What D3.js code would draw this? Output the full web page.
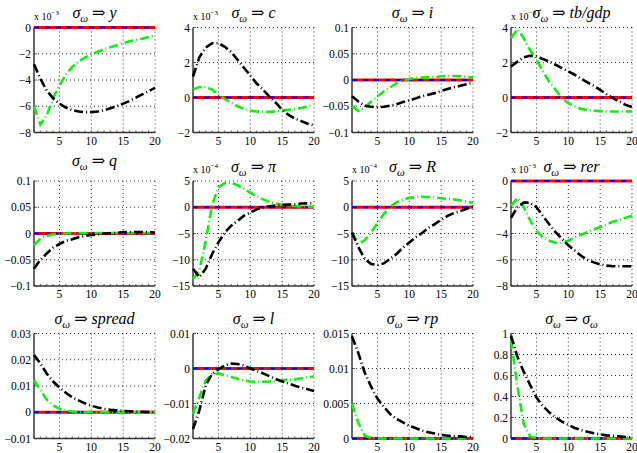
<!DOCTYPE html>
<html><head><meta charset="utf-8">
<script src="https://cdn.jsdelivr.net/npm/d3@7"></script>
<style>body{margin:0;background:#fff} svg{display:block}</style>
</head><body>
<svg id="c" width="637" height="453"></svg>
<script>
// ---------- data ----------
const periods = [1,2,3,4,5,6,7,8,9,10,11,12,13,14,15,16,17,18,19,20];
const zeroLine = [0,0,0,0,0,0,0,0,0,0,0,0,0,0,0,0,0,0,0,0];
const xTicks = [5,10,15,20];

const yBlack = [-2.8,-3.9,-4.8,-5.4,-5.8,-6.1,-6.3,-6.4,-6.45,-6.45,-6.4,-6.3,-6.15,-6.0,-5.8,-5.6,-5.35,-5.1,-4.85,-4.6];
const yGreen = [-6.0,-7.4,-6.7,-5.4,-4.4,-3.6,-3.0,-2.6,-2.3,-2.05,-1.85,-1.65,-1.5,-1.35,-1.2,-1.05,-0.95,-0.85,-0.72,-0.6];
const cBlack = [1.2,2.3,2.85,3.1,3.1,2.9,2.6,2.15,1.7,1.25,0.8,0.45,0.05,-0.3,-0.7,-1.0,-1.2,-1.35,-1.5,-1.6];
const cGreen = [0.45,0.6,0.6,0.45,0.15,-0.1,-0.3,-0.5,-0.65,-0.75,-0.8,-0.82,-0.82,-0.8,-0.75,-0.7,-0.65,-0.6,-0.5,-0.4];
const iBlack = [-0.031,-0.041,-0.049,-0.051,-0.052,-0.051,-0.049,-0.046,-0.042,-0.039,-0.035,-0.031,-0.028,-0.025,-0.021,-0.017,-0.014,-0.011,-0.008,-0.005];
const iGreen = [-0.05,-0.059,-0.053,-0.041,-0.031,-0.022,-0.014,-0.006,-0.001,0.002,0.004,0.0045,0.005,0.0055,0.007,0.0075,0.0075,0.007,0.006,0.005];
const tbBlack = [1.77,2.05,2.3,2.38,2.35,2.2,2.05,1.87,1.68,1.49,1.3,1.07,0.86,0.67,0.44,0.19,-0.04,-0.23,-0.42,-0.55];
const tbGreen = [3.4,3.9,3.4,2.7,2.15,1.5,0.9,0.44,-0.04,-0.32,-0.5,-0.65,-0.72,-0.76,-0.78,-0.8,-0.8,-0.8,-0.8,-0.8];
const qBlack = [-0.067,-0.05,-0.038,-0.027,-0.02,-0.014,-0.011,-0.007,-0.0045,-0.003,-0.002,0,0.0005,0.001,0.003,0.003,0.003,0.003,0.0025,0.002];
const qGreen = [-0.022,-0.01,-0.0045,-0.002,-0.001,0,0.0005,0.0008,0.001,0.001,0.001,0.001,0.001,0.001,0.001,0.001,0.001,0.001,0.001,0.001];
const piBlack = [-11.7,-13.3,-11.7,-8.9,-6.7,-4.8,-3.5,-2.6,-1.6,-1.0,-0.4,-0.06,0.2,0.35,0.45,0.5,0.55,0.7,0.75,0.8];
const piGreen = [-13.7,-12.0,-6.5,0.5,3.8,4.6,4.7,4.2,3.5,2.8,2.1,1.5,1.0,0.7,0.45,0.3,0.2,0.15,0.1,0.05];
const rBlack = [-4.8,-7.6,-9.8,-10.8,-11.0,-10.7,-9.8,-8.9,-7.7,-6.7,-5.7,-4.9,-3.9,-3.2,-2.4,-1.65,-1.1,-0.75,-0.3,0.1];
const rGreen = [-4.8,-7.0,-6.3,-4.8,-3.0,-1.3,0.1,0.95,1.45,1.8,1.9,2.0,1.95,1.9,1.7,1.6,1.5,1.3,1.1,0.8];
const rerBlack = [-2.8,-2.0,-1.65,-1.65,-2.0,-2.65,-3.3,-3.9,-4.4,-4.9,-5.3,-5.7,-6.0,-6.2,-6.35,-6.45,-6.5,-6.5,-6.5,-6.5];
const rerGreen = [-1.9,-1.3,-2.0,-3.0,-3.8,-4.3,-4.55,-4.7,-4.7,-4.55,-4.3,-4.1,-3.9,-3.7,-3.5,-3.3,-3.1,-2.95,-2.8,-2.65];
const spreadBlack = [0.0218,0.0186,0.0147,0.0117,0.0094,0.0074,0.0057,0.0045,0.0034,0.0025,0.0018,0.0013,0.0009,0.0007,0.0005,0.0004,0.0003,0.0002,0.00015,0.0001];
const spreadGreen = [0.0122,0.0085,0.0048,0.0026,0.0013,0.0006,0.0003,0.00015,0.0001,0.0001,0.00005,0,0,0,0,0,0,0,0,0];
const lBlack = [-0.0173,-0.012,-0.0048,-0.0016,-0.0002,0.0009,0.0014,0.0013,0.0008,0.0,-0.0007,-0.0014,-0.0022,-0.003,-0.0037,-0.0043,-0.0049,-0.0055,-0.0059,-0.0064];
const lGreen = [-0.013,-0.0082,-0.0034,-0.0016,-0.0014,-0.0019,-0.0024,-0.0029,-0.0034,-0.0037,-0.0038,-0.0038,-0.0037,-0.0036,-0.0034,-0.0032,-0.0031,-0.0028,-0.0025,-0.0023];
const rpBlack = [0.0146,0.0122,0.0094,0.0074,0.0057,0.0045,0.0035,0.0028,0.0023,0.0018,0.0015,0.0011,0.0009,0.0007,0.0005,0.0004,0.0003,0.0003,0.0002,0.0002];
const rpGreen = [0.005,0.0022,0.0004,0.0001,0,0,0,0,0,0,0,0,0,0,0,0,0,0,0,0];
const sigBlack = [0.98,0.78,0.635,0.51,0.39,0.31,0.25,0.2,0.16,0.13,0.1,0.08,0.065,0.05,0.04,0.03,0.025,0.02,0.015,0.01];
const sigGreen = [0.94,0.5,0.14,0.02,0.003,0,0,0,0,0,0,0,0,0,0,0,0,0,0,0];

const ticksY = [-8,-6,-4,-2,0];
const ticksC = [-2,0,2,4];
const ticksI = [-0.1,-0.05,0,0.05,0.1];
const ticksTb = [-2,0,2,4];
const ticksQ = [-0.1,-0.05,0,0.05,0.1];
const ticksPi = [-15,-10,-5,0,5];
const ticksR = [-15,-10,-5,0,5];
const ticksRer = [-8,-6,-4,-2,0];
const ticksSpread = [-0.01,0,0.01,0.02,0.03];
const ticksL = [-0.02,-0.01,0,0.01];
const ticksRp = [0,0.005,0.01,0.015];
const ticksSig = [0,0.2,0.4,0.6,0.8,1];

const targets = ["y","c","i","tb/gdp","q","π","R","rer","spread","l","rp","σω"];
const exponents = ["-3","-3",null,"-3",null,"-4","-4","-3",null,null,null,null];
const blackSeries = [yBlack,cBlack,iBlack,tbBlack,qBlack,piBlack,rBlack,rerBlack,spreadBlack,lBlack,rpBlack,sigBlack];
const greenSeries = [yGreen,cGreen,iGreen,tbGreen,qGreen,piGreen,rGreen,rerGreen,spreadGreen,lGreen,rpGreen,sigGreen];
const tickSets = [ticksY,ticksC,ticksI,ticksTb,ticksQ,ticksPi,ticksR,ticksRer,ticksSpread,ticksL,ticksRp,ticksSig];

// ---------- layout ----------
const colLeft = [34,193,352,511];
const rowTop = [27.5,181,333.5];
const W = 121, H = 105;
const titleGap = [10,10,10,10, 15,9,9,9, 10,10,10,10];
const serif = "'Liberation Serif','Times New Roman','DejaVu Serif',serif";

const svg = d3.select("#c");
const fmt = v => String(v).replace("-", "\u2212");

targets.forEach((target, k) => {
  const left = colLeft[k % 4], top = rowTop[Math.floor(k / 4)];
  const ticks = tickSets[k];
  const x = d3.scaleLinear().domain([1,20]).range([left, left + W]);
  const y = d3.scaleLinear().domain([d3.min(ticks), d3.max(ticks)]).range([top + H, top]);
  const g = svg.append("g");

  // grid (dotted)
  g.selectAll(".gx").data(xTicks).join("line")
    .attr("x1", d => x(d)).attr("x2", d => x(d)).attr("y1", top).attr("y2", top + H)
    .attr("stroke", "#000").attr("stroke-width", 0.8).attr("stroke-dasharray", "1,3");
  g.selectAll(".gy").data(ticks.slice(1)).join("line")
    .attr("x1", left).attr("x2", left + W).attr("y1", d => y(d)).attr("y2", d => y(d))
    .attr("stroke", "#000").attr("stroke-width", 0.8).attr("stroke-dasharray", "1,3");

  // axes
  g.append("line").attr("x1", left).attr("x2", left).attr("y1", top).attr("y2", top + H)
    .attr("stroke", "#444").attr("stroke-width", 1.6);
  g.append("line").attr("x1", left).attr("x2", left + W).attr("y1", top + H).attr("y2", top + H)
    .attr("stroke", "#333").attr("stroke-width", 1.4);
  g.selectAll(".mt").data(periods).join("line")
    .attr("x1", d => x(d)).attr("x2", d => x(d)).attr("y1", top + H).attr("y2", top + H - 2)
    .attr("stroke", "#333").attr("stroke-width", 0.8);
  g.selectAll(".yt").data(ticks).join("line")
    .attr("x1", left).attr("x2", left + 3).attr("y1", d => y(d)).attr("y2", d => y(d))
    .attr("stroke", "#333").attr("stroke-width", 0.8);

  // tick labels
  g.selectAll(".yl").data(ticks).join("text")
    .attr("x", left - 3).attr("y", d => y(d)).attr("dy", "0.35em")
    .attr("text-anchor", "end").attr("font-family", serif).attr("font-size", 11.5)
    .text(fmt);
  g.selectAll(".xl").data(xTicks).join("text")
    .attr("x", d => x(d)).attr("y", top + H + 12)
    .attr("text-anchor", "middle").attr("font-family", serif).attr("font-size", 11.5)
    .text(d => d);

  // series
  const line = d3.line().x((d, i) => x(periods[i])).y(d => y(d));
  g.append("path").attr("d", line(zeroLine)).attr("fill", "none")
    .attr("stroke", "#ff0000").attr("stroke-width", 3);
  g.append("path").attr("d", line(zeroLine)).attr("fill", "none")
    .attr("stroke", "#0000ff").attr("stroke-width", 2).attr("stroke-dasharray", "5,6");
  g.append("path").attr("d", line(greenSeries[k])).attr("fill", "none")
    .attr("stroke", "#11ee11").attr("stroke-width", 2.6).attr("stroke-dasharray", "9,3,1,3");
  g.append("path").attr("d", line(blackSeries[k])).attr("fill", "none")
    .attr("stroke", "#000").attr("stroke-width", 2.6).attr("stroke-dasharray", "9,3,1,3");

  // exponent label
  if (exponents[k]) {
    const e = g.append("text").attr("x", left).attr("y", top - 8)
      .attr("font-family", serif).attr("font-size", 10);
    e.append("tspan").text("x 10");
    e.append("tspan").attr("font-size", 7).attr("dy", -5).text(fmt(exponents[k]));
  }

  // title
  const t = g.append("text").attr("x", left + W / 2).attr("y", top - titleGap[k])
    .attr("text-anchor", "middle").attr("font-family", serif).attr("font-size", 16);
  t.append("tspan").attr("font-style", "italic").text("σ");
  t.append("tspan").attr("font-style", "italic").attr("font-size", 11).attr("dy", 4).text("ω");
  t.append("tspan").attr("dy", -4).text(" ⇒ ");
  if (target === "σω") {
    t.append("tspan").attr("font-style", "italic").text("σ");
    t.append("tspan").attr("font-style", "italic").attr("font-size", 11).attr("dy", 4).text("ω");
  } else {
    t.append("tspan").attr("font-style", "italic").text(target);
  }
});
</script>
</body></html>
